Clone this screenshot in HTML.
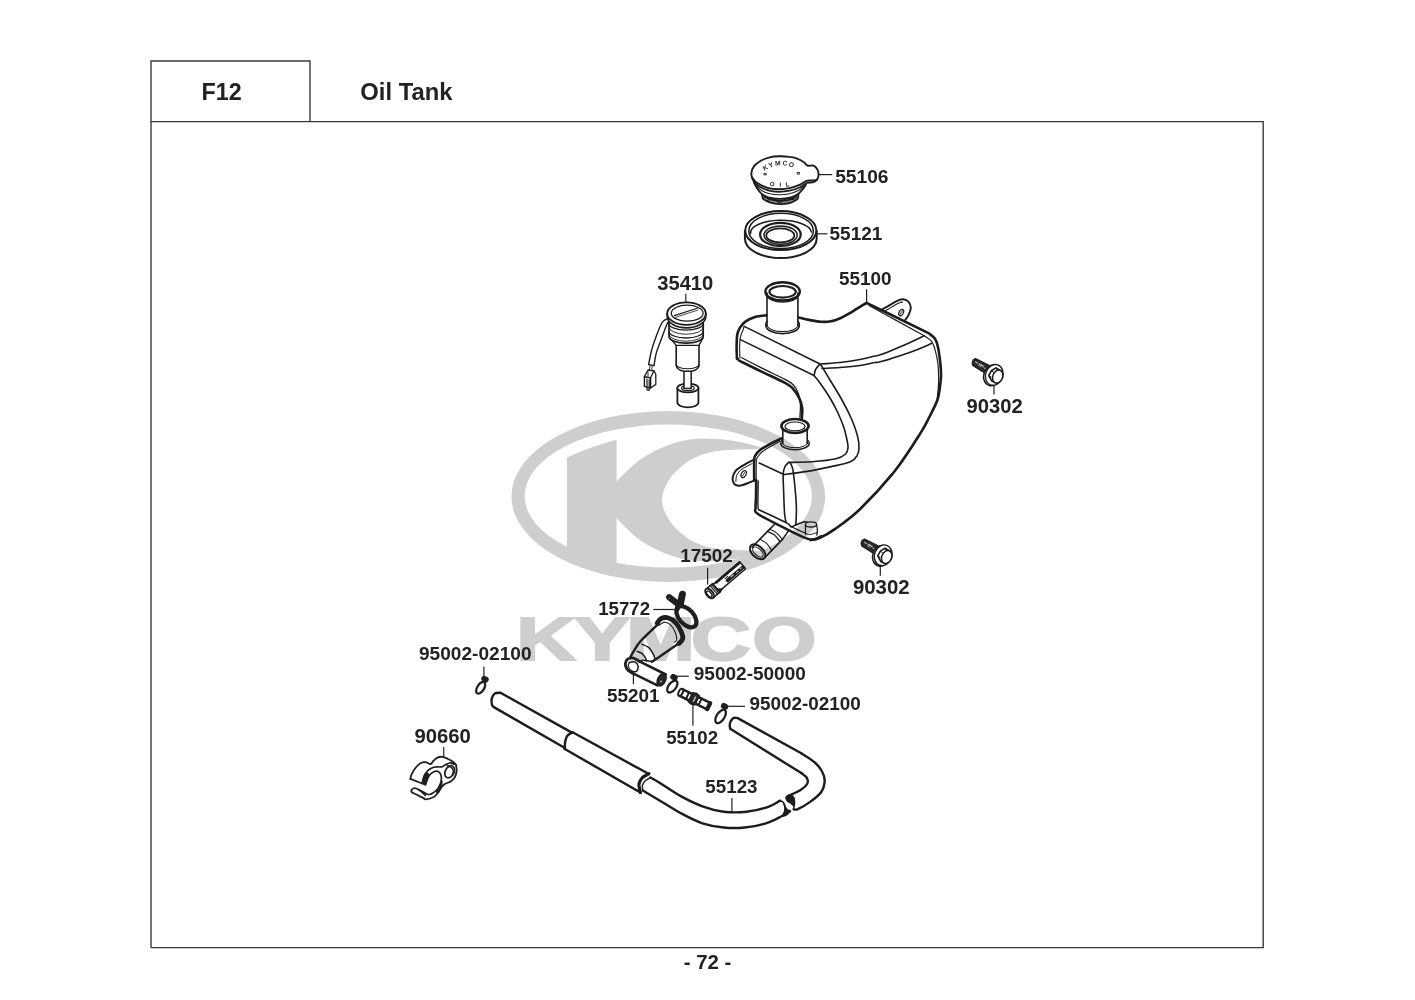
<!DOCTYPE html>
<html lang="en"><head><meta charset="utf-8"><title>F12 Oil Tank</title>
<style>
html,body{margin:0;padding:0;background:#fff;}
body{width:1415px;height:1000px;overflow:hidden;font-family:"Liberation Sans",Arial,sans-serif;}
svg{display:block;will-change:transform;}
svg text{font-family:"Liberation Sans",Arial,sans-serif;}
</style></head><body>
<svg width="1415" height="1000" viewBox="0 0 1415 1000"><path d="M511.4 496.5A156.9 85.5 0 1 0 825.2 496.5A156.9 85.5 0 1 0 511.4 496.5Z M524.6 496.1A143.7 71.5 0 1 0 812 496.1A143.7 71.5 0 1 0 524.6 496.1Z" fill="#cecece" fill-rule="evenodd"/>
<path d="M566.9 457.5Q592 446 616.6 439.8L616.6 481.5C618.2 479.9 622.6 475.1 626.4 471.6C630.2 468.1 633.8 464.1 639.2 460.3C644.6 456.5 652.2 452.1 659 449C665.8 445.9 673 443.3 680 441.6C687 439.9 693 438.8 701.3 438.6C709.6 438.4 721.3 439.2 729.6 440.2C737.9 441.2 745.5 443.3 751 444.6C756.5 445.9 760.8 447.4 762.8 448L762.8 448.4C760.8 448.5 755.8 449.1 751 449.3C746.2 449.5 739.8 449.5 734 449.8C728.2 450.1 721.5 450.4 716 451.2C710.5 452 706.1 453.1 701.3 454.9C696.5 456.7 691.9 458.6 687.2 461.9C682.5 465.2 676.8 470.1 673 474.5C669.2 478.9 666.5 484.4 664.6 488.6C662.7 492.8 662.3 498 661.8 499.9C662.3 501.8 662.7 507 664.6 511.2C666.5 515.4 669.2 520.8 673 525.3C676.8 529.8 682.5 534.6 687.2 537.9C691.9 541.2 696.5 543.1 701.3 544.9C706.1 546.7 710.5 547.7 716 548.6C721.5 549.4 728.2 549.7 734 550C739.8 550.3 746.2 550.3 751 550.5C755.8 550.7 760.8 551.2 762.8 551.4L762.8 551.8C760.8 552.4 756.5 553.9 751 555.2C745.5 556.5 737.9 558.6 729.6 559.6C721.3 560.6 709.6 561.4 701.3 561.2C693 561 687 559.9 680 558.2C673 556.5 665.8 553.9 659 550.8C652.2 547.7 644.6 543.3 639.2 539.5C633.8 535.7 630.2 531.7 626.4 528.2C622.6 524.7 618.2 519.9 616.6 518.3L616.6 572L566.9 556Z" fill="#cecece"/>
<text transform="scale(1.3436 1)" x="384.2 427.8 466.1 514.3 559.8" y="659.8" font-family="'Liberation Sans', Arial, sans-serif" font-weight="bold" font-size="61.4" fill="#cecece" stroke="#cecece" stroke-width="2.5" stroke-linejoin="miter" vector-effect="non-scaling-stroke">KYMCO</text>
<g id="hose"><path d="M571.9 732.6L500.5 692.7C499.6 692.8 496.3 692.4 494.8 693.4C493.4 694.5 492.1 697.2 491.6 699.1C491.1 701 491.7 703.4 492 704.7C492.3 706 493.2 706.5 493.4 706.9L564.5 747.8" fill="none" stroke="#1c1c1c" stroke-width="2.4" stroke-linecap="round" stroke-linejoin="round"/>
<path d="M572.6 732.3C571.7 732.9 568.6 734.2 567.3 735.8C566.1 737.5 565.5 740 565.1 742.2C564.7 744.4 564.9 747.8 564.8 749" fill="none" stroke="#1c1c1c" stroke-width="2.4" stroke-linecap="round" stroke-linejoin="round"/>
<path d="M572.6 732.3L648.9 774" fill="none" stroke="#1c1c1c" stroke-width="2.4" stroke-linecap="round" stroke-linejoin="round"/>
<path d="M564.8 749L640.4 792.4" fill="none" stroke="#1c1c1c" stroke-width="2.4" stroke-linecap="round" stroke-linejoin="round"/>
<path d="M648.9 773.7C647.8 774.3 644.2 775.8 642.5 777.5C640.9 779.2 639.4 781.4 639 783.9C638.7 786.4 640.2 791.2 640.4 792.7" fill="none" stroke="#1c1c1c" stroke-width="3.2" stroke-linecap="round" stroke-linejoin="round"/>
<path d="M650.3 777.5C649.5 778 646.7 779.3 645.4 780.6C644.1 781.9 643 783.7 642.5 785.3C642.1 786.9 642.8 789.7 642.8 790.5" fill="none" stroke="#1c1c1c" stroke-width="1.4" stroke-linecap="round" stroke-linejoin="round"/>
<path d="M650.3 777.5C651.9 778.4 654.9 779.9 660 783C665.1 786.2 674.1 792.5 681.2 796.4C688.3 800.3 695.3 803.8 702.4 806.3C709.5 808.9 716.5 810.8 723.6 811.7C730.7 812.6 737.7 812.6 744.8 812C751.9 811.3 760.1 809.6 766 807.7C771.9 805.9 777.8 801.8 780.1 800.7" fill="none" stroke="#1c1c1c" stroke-width="2.4" stroke-linecap="round" stroke-linejoin="round"/>
<path d="M642.8 790.5C645.7 792.2 653.6 796.9 660 800.7C666.4 804.5 674.1 809.6 681.2 813.4C688.3 817.2 695.3 820.9 702.4 823.3C709.5 825.6 716.5 826.8 723.6 827.5C730.7 828.2 737.7 828.2 744.8 827.5C751.9 826.8 759.9 825.2 766 823.3C772.1 821.4 777.6 818.2 781.6 816.2C785.6 814.2 788.6 812.1 790 811.3" fill="none" stroke="#1c1c1c" stroke-width="2.4" stroke-linecap="round" stroke-linejoin="round"/>
<path d="M780.1 800.7C780.7 801 782.4 801.3 783.3 802.4C784.1 803.4 784.9 805.2 785.1 807C785.3 808.9 784.9 811.9 784.4 813.4C783.9 814.9 782.6 815.5 782.3 815.9" fill="none" stroke="#1c1c1c" stroke-width="1.6" stroke-linecap="round" stroke-linejoin="round"/>
<path d="M783.3 802.4C783.6 802.4 786 807.7 787.2 809.2C788.5 810.6 790.7 809.9 790.7 810.8C790.7 811.8 788.6 814 787.2 814.8C785.9 815.7 783.1 816.9 782.7 815.9C782.3 815 784.9 811.4 784.9 809.2C785 806.9 782.9 802.4 783.3 802.4Z" fill="#1c1c1c" stroke="#1c1c1c" stroke-width="1" stroke-linecap="round" stroke-linejoin="round"/>
<path d="M785.8 797.8C785.9 796.8 786.9 795.7 787.9 795.3C789 794.9 791 794.6 792.2 795.3C793.3 796 794.2 797.4 794.6 799.3C794.9 801.1 794.9 805.6 794.3 806.3C793.6 807 791.9 804.3 790.7 803.5C789.6 802.7 788 802.3 787.2 801.4C786.4 800.4 785.7 798.9 785.8 797.8Z" fill="#1c1c1c" stroke="#1c1c1c" stroke-width="1" stroke-linecap="round" stroke-linejoin="round"/>
<path d="M801.3 753.3L737.2 717.9C736.5 718 734.2 717.4 733 718.3C731.8 719.3 730.3 721.6 729.9 723.3C729.4 725.1 730.1 727.9 730.2 728.8L801.3 773.1" fill="none" stroke="#1c1c1c" stroke-width="2.4" stroke-linecap="round" stroke-linejoin="round"/>
<path d="M801.3 753.3C803.5 754.7 810.6 758.9 814.1 761.8C817.5 764.7 820.1 767.8 821.8 771C823.6 774.2 824.8 777.3 824.7 780.9C824.5 784.4 823.6 788.7 821.1 792.2C818.7 795.7 813.7 799.3 809.8 802.1C805.9 804.9 800.5 808 797.8 809.2C795.1 810.3 794.3 809.2 793.6 809.2" fill="none" stroke="#1c1c1c" stroke-width="2.4" stroke-linecap="round" stroke-linejoin="round"/>
<path d="M801.3 773.1C802.3 773.9 806 776.3 807 778.1C808 779.8 808.2 781.8 807.3 783.7C806.3 785.6 804.7 787.2 801.3 789.4C798 791.5 789.6 795.3 787.2 796.4" fill="none" stroke="#1c1c1c" stroke-width="2.4" stroke-linecap="round" stroke-linejoin="round"/>
<path d="M793.6 809.2L794.3 800.7" fill="none" stroke="#1c1c1c" stroke-width="1.4" stroke-linecap="round" stroke-linejoin="round"/></g>
<g id="tank"><path d="M737 358.8C736.9 356.8 736.6 350.8 736.6 346.8C736.7 342.8 736.7 338 737.2 334.8C737.8 331.6 738.6 329.8 740 327.6C741.4 325.4 742.9 323.4 745.4 321.6C747.9 319.8 751.5 318.1 755 317C758.5 316 764.5 315.6 766.4 315.4" fill="none" stroke="#1c1c1c" stroke-width="2.6" stroke-linecap="round" stroke-linejoin="round"/>
<path d="M740 358.2C739.9 356.3 739.6 350.3 739.6 346.8C739.7 343.3 739.8 340 740.4 337.2C740.9 334.4 742.4 331.8 743 330C743.6 328.2 744 327 744.2 326.4" fill="none" stroke="#1c1c1c" stroke-width="1.1" stroke-linecap="round" stroke-linejoin="round"/>
<path d="M798.4 317.4C800.2 317.8 805.2 319.2 809 319.9C812.8 320.6 817.3 321.6 821 321.8C824.7 322 827.8 321.9 831 321.3C834.2 320.7 837.5 319.4 840.3 318.2C843 317 845.2 315.7 847.5 314.4C849.8 313.1 851.9 311.9 854 310.6C856.1 309.3 857.9 308.1 860 306.8C862.1 305.5 865.5 303.5 866.6 302.8" fill="none" stroke="#1c1c1c" stroke-width="2.6" stroke-linecap="round" stroke-linejoin="round"/>
<path d="M866.6 302.8L929 333.4C930 334.3 933.5 336.5 935 338.8C936.5 341.1 937.1 343 938 347.2C938.9 351.4 939.9 359.2 940.4 364C940.9 368.8 941.1 372 941 376C940.9 380 940.4 384 939.8 388C939.2 392 939.1 395.2 937.4 400C935.7 404.8 932.3 411.3 929.4 417C926.5 422.6 925.8 424.9 920 433.9C914.3 443 904.5 458.8 894.6 471.2C884.7 483.7 870.6 498.9 860.7 508.5C850.8 518.2 842 524 835.2 528.9C828.5 533.8 824.1 535.9 820 537.7C815.9 539.6 812.2 539.7 810.7 540.1" fill="none" stroke="#1c1c1c" stroke-width="2.6" stroke-linecap="round" stroke-linejoin="round"/>
<path d="M869 305.4L924.2 335.8C925.4 336.7 929.6 338.9 931.4 341.2C933.2 343.5 933.9 345.8 935 349.6C936.1 353.4 937.4 358.6 938 364C938.6 369.4 938.7 376.2 938.6 382C938.5 387.8 937.4 396 937.2 398.8" fill="none" stroke="#1c1c1c" stroke-width="1.2" stroke-linecap="round" stroke-linejoin="round"/>
<path d="M744.2 326.4L820 364" fill="none" stroke="#1c1c1c" stroke-width="1.6" stroke-linecap="round" stroke-linejoin="round"/>
<path d="M740.4 339.6L814 375.5" fill="none" stroke="#1c1c1c" stroke-width="1.6" stroke-linecap="round" stroke-linejoin="round"/>
<path d="M820 364C819.3 364.9 816.8 367.3 815.8 369.2C814.8 371.1 814.3 374.4 814 375.5" fill="none" stroke="#1c1c1c" stroke-width="1.6" stroke-linecap="round" stroke-linejoin="round"/>
<path d="M820.5 364C823.8 363.8 833.4 363.2 840 362.5C846.6 361.8 854.2 360.6 860 359.5C865.8 358.4 871.5 356.8 875 356C878.5 355.2 876 356.5 881 354.6C886 352.8 897.8 347.9 905 344.8C912.2 341.7 921 337.3 924.2 335.8" fill="none" stroke="#1c1c1c" stroke-width="1.6" stroke-linecap="round" stroke-linejoin="round"/>
<path d="M822 368.5C825 368.3 833.7 368 840 367.5C846.3 367 854.2 366.3 860 365.5C865.8 364.7 871.5 363.1 875 362.5C878.5 361.9 875 363.4 881 361.6C887 359.9 902.6 355 911 352C919.4 349 928 345 931.4 343.6" fill="none" stroke="#1c1c1c" stroke-width="1.6" stroke-linecap="round" stroke-linejoin="round"/>
<path d="M814 375.5C815 376.8 817.3 379.2 820 383C822.7 386.8 827 393 830 398C833 403 835.7 408 838 413C840.3 418 842.5 423.5 844 428C845.5 432.5 846.3 436.7 847 440C847.7 443.3 848.2 445.7 848 448C847.8 450.3 847.6 452.2 845.6 454C843.6 455.8 841.6 457.5 836 458.8C830.4 460.1 819.9 461.2 812 461.8C804.1 462.4 792.5 462.3 788.6 462.4" fill="none" stroke="#1c1c1c" stroke-width="1.6" stroke-linecap="round" stroke-linejoin="round"/>
<path d="M821 365C822.5 367.5 826.5 374.2 830 380C833.5 385.8 838.3 393.3 842 400C845.7 406.7 849.4 414 852 420C854.6 426 856.3 431.3 857.5 436C858.7 440.7 859.1 444.7 859 448C859 451.3 858.4 453.5 857 455.8C855.6 458.1 854.7 460 850.4 461.8C846.1 463.6 838.4 465 831.2 466.6C824 468.2 815.1 470.1 807.2 471.4C799.3 472.7 787.7 474.1 783.8 474.6" fill="none" stroke="#1c1c1c" stroke-width="1.6" stroke-linecap="round" stroke-linejoin="round"/>
<path d="M737 357.8C737.2 358.2 737.7 359.4 738.4 360C739.1 360.6 737.4 359.7 741.2 361.6C745 363.5 753.7 367.9 761 371.4C768.3 374.9 779.8 380.1 785 382.8C790.2 385.5 789.9 385.4 792.2 387.8C794.5 390.2 797.1 393.8 798.8 397.2C800.5 400.6 801.7 404.5 802.2 408C802.7 411.5 801.9 416.5 801.8 418.2" fill="none" stroke="#1c1c1c" stroke-width="2.6" stroke-linecap="round" stroke-linejoin="round"/>
<path d="M741.8 357.8C745 359.5 753.8 364.1 761 367.7C768.2 371.3 779.6 376.6 785 379.4C790.4 382.3 790.9 382.4 793.2 384.7C795.4 387.1 797.2 390.3 798.4 393.6C799.6 396.9 800.1 400.4 800.4 404.4C800.6 408.4 800 415.2 799.9 417.4" fill="none" stroke="#1c1c1c" stroke-width="1.3" stroke-linecap="round" stroke-linejoin="round"/>
<ellipse cx="782.6" cy="291.4" rx="17.2" ry="9.1" fill="#fff" stroke="#1c1c1c" stroke-width="2.4"/>
<ellipse cx="782.6" cy="291.8" rx="13.2" ry="5.8" fill="none" stroke="#1c1c1c" stroke-width="2.1"/>
<path d="M767 293V325.5" fill="none" stroke="#1c1c1c" stroke-width="1.6" stroke-linecap="round" stroke-linejoin="round"/>
<path d="M797.9 293V325.5" fill="none" stroke="#1c1c1c" stroke-width="1.6" stroke-linecap="round" stroke-linejoin="round"/>
<path d="M766 295A17 9 0 0 0 799.2 295" fill="none" stroke="#1c1c1c" stroke-width="1.2" stroke-linecap="round" stroke-linejoin="round"/>
<path d="M765.8 325.5A16.8 8.2 0 0 0 799.4 325.5" fill="none" stroke="#1c1c1c" stroke-width="1.6" stroke-linecap="round" stroke-linejoin="round"/>
<path d="M767.2 325A15.4 6.6 0 0 0 798 325" fill="none" stroke="#1c1c1c" stroke-width="1.1" stroke-linecap="round" stroke-linejoin="round"/>
<path d="M765.8 325.5Q765.6 322.5 767 321" fill="none" stroke="#1c1c1c" stroke-width="1.3" stroke-linecap="round" stroke-linejoin="round"/>
<path d="M799.4 325.5Q799.6 322.5 797.9 321" fill="none" stroke="#1c1c1c" stroke-width="1.3" stroke-linecap="round" stroke-linejoin="round"/>
<path d="M882.2 309.4C883.6 308.6 888 306.1 890.6 304.6C893.2 303.1 895.7 301.5 897.8 300.6C899.9 299.7 901.4 299 903.2 299.2C905 299.4 907.3 300.4 908.6 301.8C909.9 303.3 910.8 305.6 910.8 307.8C910.8 310 909.6 313 908.6 315C907.6 317.1 905.6 319.3 905 320.2" fill="none" stroke="#1c1c1c" stroke-width="1.9" stroke-linecap="round" stroke-linejoin="round"/>
<path d="M885.2 311C886.5 310.2 890.6 307.5 893 306.2C895.4 304.8 898 303.5 899.6 302.8C901.2 302.1 902.1 302.2 902.6 302.1" fill="none" stroke="#1c1c1c" stroke-width="1.1" stroke-linecap="round" stroke-linejoin="round"/>
<ellipse cx="901.2" cy="312.6" rx="2.1" ry="3.5" fill="none" stroke="#1c1c1c" stroke-width="1.2" transform="rotate(28 901.2 312.6)"/>
<path d="M900 314.5L902.6 310.6" fill="none" stroke="#1c1c1c" stroke-width="0.9" stroke-linecap="round" stroke-linejoin="round"/>
<path d="M781.4 438.4C779.7 439.2 774.7 441.5 771.2 443.4C767.7 445.3 763 447.8 760.4 449.8C757.8 451.8 756.4 453.7 755.4 455.4C754.3 457.1 754.4 455.8 754.2 460C754 464.2 754.2 477 754.2 480.4" fill="none" stroke="#1c1c1c" stroke-width="2.6" stroke-linecap="round" stroke-linejoin="round"/>
<path d="M779.6 441.5C778 442.4 772.9 445.1 770 446.8C767.1 448.5 764.2 450.3 762.2 451.8C760.2 453.4 759.2 454.7 758.2 456.2C757.3 457.6 756.8 456.6 756.4 460.6C756.1 464.6 756.2 477.1 756.2 480.4" fill="none" stroke="#1c1c1c" stroke-width="1.1" stroke-linecap="round" stroke-linejoin="round"/>
<path d="M756.2 480.4C756.2 483.2 756.1 492.6 756 497.2C755.9 501.8 755.3 505.2 755.6 508C755.9 510.8 752.6 510.4 758 514C763.4 517.6 779.8 525.7 788 529.8C796.2 533.9 802.8 537 807.2 538.6C811.6 540.2 812 539.8 814.4 539.4C816.8 539 820.4 536.7 821.6 536.2" fill="none" stroke="#1c1c1c" stroke-width="2.6" stroke-linecap="round" stroke-linejoin="round"/>
<path d="M758.2 481C758.2 485.3 757.7 501.9 758 506.8C758.3 511.7 759.5 509.6 759.8 510.2" fill="none" stroke="#1c1c1c" stroke-width="1.4" stroke-linecap="round" stroke-linejoin="round"/>
<path d="M759.2 463L783.4 474.2" fill="none" stroke="#1c1c1c" stroke-width="1.6" stroke-linecap="round" stroke-linejoin="round"/>
<path d="M788.6 462.4C788 463.1 785.9 464.7 785 466.6C784.1 468.5 783.4 469.9 783.2 473.8C783 477.7 783.3 483.3 783.6 490C783.8 496.7 784.2 508.6 784.6 514C785.1 519.4 785.9 521.2 786.2 522.6" fill="none" stroke="#1c1c1c" stroke-width="1.6" stroke-linecap="round" stroke-linejoin="round"/>
<path d="M790.4 463C790.8 464.2 792.2 465.7 793 470.2C793.8 474.7 794.6 483.7 795.2 490C795.8 496.3 796.3 502.2 796.4 508C796.5 513.8 795.9 522.2 795.8 525" fill="none" stroke="#1c1c1c" stroke-width="1.6" stroke-linecap="round" stroke-linejoin="round"/>
<path d="M759.8 510.2C764.2 512.2 781 519.9 786.2 522.6C791.4 525.4 789.4 526.2 791 526.6C792.6 527 793.7 525.8 795.8 525C797.9 524.3 801.7 522.4 803.6 521.9C805.5 521.5 806.6 522.3 807.2 522.4" fill="none" stroke="#1c1c1c" stroke-width="1.6" stroke-linecap="round" stroke-linejoin="round"/>
<ellipse cx="811" cy="524.4" rx="5.6" ry="2.6" fill="none" stroke="#1c1c1c" stroke-width="1.3"/>
<path d="M805.4 524.8L805.5 534.4" fill="none" stroke="#1c1c1c" stroke-width="1.3" stroke-linecap="round" stroke-linejoin="round"/>
<path d="M816.7 524.8C816.8 525.8 817.4 529.1 817.4 530.8C817.4 532.5 816.9 534.3 816.8 535" fill="none" stroke="#1c1c1c" stroke-width="1.3" stroke-linecap="round" stroke-linejoin="round"/>
<path d="M805.4 533.2C806.1 533.4 807.7 534.7 809.6 534.6C811.5 534.5 815.6 532.9 816.8 532.6" fill="none" stroke="#1c1c1c" stroke-width="1" stroke-linecap="round" stroke-linejoin="round"/>
<path d="M791 526.6C792.1 527.1 795.2 528.5 797.6 529.6C800 530.7 804.2 532.8 805.5 533.4" fill="none" stroke="#1c1c1c" stroke-width="1.2" stroke-linecap="round" stroke-linejoin="round"/>
<ellipse cx="795" cy="426" rx="13.6" ry="7" fill="none" stroke="#1c1c1c" stroke-width="2.6"/>
<ellipse cx="795" cy="426.4" rx="10" ry="4.4" fill="none" stroke="#1c1c1c" stroke-width="1.2"/>
<path d="M782.8 429V443.5" fill="none" stroke="#1c1c1c" stroke-width="1.6" stroke-linecap="round" stroke-linejoin="round"/>
<path d="M807.2 429V443.5" fill="none" stroke="#1c1c1c" stroke-width="1.6" stroke-linecap="round" stroke-linejoin="round"/>
<path d="M780.8 443.5A14.2 6.2 0 0 0 809.2 443.5" fill="none" stroke="#1c1c1c" stroke-width="1.6" stroke-linecap="round" stroke-linejoin="round"/>
<path d="M782.2 442.7A12.8 5 0 0 0 807.8 442.7" fill="none" stroke="#1c1c1c" stroke-width="1" stroke-linecap="round" stroke-linejoin="round"/>
<path d="M780.8 443.5Q780.6 441.1 782.4 440.1" fill="none" stroke="#1c1c1c" stroke-width="1.2" stroke-linecap="round" stroke-linejoin="round"/>
<path d="M809.2 443.5Q809.4 441.1 807.6 440.1" fill="none" stroke="#1c1c1c" stroke-width="1.2" stroke-linecap="round" stroke-linejoin="round"/>
<path d="M754.7 459.4C753.1 460.2 748.5 462.3 745.4 464.1C742.2 465.9 738.1 468.1 736 470.4C733.9 472.7 732.9 475.8 732.6 478C732.3 480.3 733.2 482.7 734.3 484C735.5 485.2 737 485.8 739.4 485.7C741.8 485.5 746.1 483.8 748.7 482.8C751.4 481.8 754.4 480.2 755.5 479.7" fill="none" stroke="#1c1c1c" stroke-width="2" stroke-linecap="round" stroke-linejoin="round"/>
<path d="M752.1 463.6C750.4 464.5 744.5 467.3 742 469.2C739.4 471.1 737.9 472.9 736.9 475C735.9 477 736 480.3 735.9 481.4" fill="none" stroke="#1c1c1c" stroke-width="1" stroke-linecap="round" stroke-linejoin="round"/>
<ellipse cx="743.7" cy="474.1" rx="2.3" ry="3.7" fill="none" stroke="#1c1c1c" stroke-width="1.2" transform="rotate(28 743.7 474.1)"/>
<path d="M742.3 476.1L745.1 472.1" fill="none" stroke="#1c1c1c" stroke-width="0.9" stroke-linecap="round" stroke-linejoin="round"/>
<path d="M774.2 524.7L768.2 530.6L752.1 547.2" fill="none" stroke="#1c1c1c" stroke-width="1.6" stroke-linecap="round" stroke-linejoin="round"/>
<path d="M788.1 531.4L782.7 539.1L765 557.4" fill="none" stroke="#1c1c1c" stroke-width="1.6" stroke-linecap="round" stroke-linejoin="round"/>
<ellipse cx="757.6" cy="551.8" rx="9.2" ry="5.6" fill="none" stroke="#1c1c1c" stroke-width="2" transform="rotate(42 757.6 551.8)"/>
<ellipse cx="757.9" cy="552" rx="6.4" ry="3.4" fill="none" stroke="#1c1c1c" stroke-width="1.1" transform="rotate(42 757.9 552)"/>
<path d="M767.4 531.4C768.5 532 772.1 533.1 774.2 534.8C776.3 536.5 779.1 540.5 780.1 541.6" fill="none" stroke="#1c1c1c" stroke-width="1.3" stroke-linecap="round" stroke-linejoin="round"/>
<path d="M769.4 529.2C770.6 529.8 774.1 530.9 776.2 532.6C778.4 534.3 781.3 538.3 782.3 539.4" fill="none" stroke="#1c1c1c" stroke-width="1.1" stroke-linecap="round" stroke-linejoin="round"/>
<path d="M759.8 539.1C760.9 539.8 764.6 541.5 766.6 543.3C768.5 545.2 770.8 549 771.6 550.1" fill="none" stroke="#1c1c1c" stroke-width="1.1" stroke-linecap="round" stroke-linejoin="round"/></g>
<g id="cap"><path d="M761.9 193.8C762 194.4 762.2 196.4 762.5 197.3C762.8 198.2 762.5 198.6 763.7 199.4C764.9 200.3 767 201.6 769.7 202.4C772.3 203.2 776.3 204 779.6 204.1C782.9 204.2 786.6 203.8 789.5 203.1C792.3 202.4 795.1 200.7 796.5 199.8C798 198.8 797.8 198.3 798.1 197.3C798.4 196.3 798.4 194.4 798.5 193.8" fill="#8a8a8a" stroke="#1c1c1c" stroke-width="1.8" stroke-linecap="round" stroke-linejoin="round"/>
<path d="M764.4 196.9C765.5 197.4 768.6 199.1 771.1 199.8C773.6 200.4 776.6 200.8 779.6 200.8C782.5 200.9 786 200.6 788.8 200C791.5 199.3 794.9 197.4 796.2 196.9" fill="none" stroke="#1c1c1c" stroke-width="1.6" stroke-linecap="round" stroke-linejoin="round"/>
<path d="M766.9 200.8C767.9 200.5 771.1 198.5 773.2 198.7C775.3 199 777.3 202.4 779.6 202.4C781.8 202.4 784.3 199.2 786.6 198.7C789 198.2 792.5 199.3 793.7 199.4" fill="none" stroke="#1c1c1c" stroke-width="1.2" stroke-linecap="round" stroke-linejoin="round"/>
<path d="M753.8 182.5C754.3 183.4 755.7 186.3 757 188.1C758.2 189.9 759.3 191.9 761.2 193.4C763.1 195 765.2 196.5 768.3 197.4C771.3 198.3 775.8 198.9 779.6 198.9C783.3 198.9 787.7 198.3 790.9 197.4C794.1 196.5 796.5 195 798.7 193.4C800.8 191.9 802.4 189.6 803.6 188.1C804.8 186.6 805.7 184.9 806.1 184.2" fill="#fff" stroke="#1c1c1c" stroke-width="1.8" stroke-linecap="round" stroke-linejoin="round"/>
<path d="M751.7 176.1C751.9 176.8 752.1 178.8 753.1 180.3C754.1 181.9 755.1 183.8 757.7 185.4C760.2 187.1 764.7 189.3 768.3 190.4C771.8 191.4 775.3 191.7 778.9 191.8C782.4 191.8 785.9 191.5 789.5 190.7C793 190 797.2 188.5 800.1 187.2C802.9 185.9 804.2 183.8 806.4 183C808.7 182.1 811.7 182.8 813.5 182.2C815.3 181.7 816.7 180.1 817.4 179.6" fill="#fff" stroke="#1c1c1c" stroke-width="1.8" stroke-linecap="round" stroke-linejoin="round"/>
<path d="M751.3 173.3C751.5 171.3 752.5 168.3 754.1 166.2C755.8 164.1 758.6 162 761.2 160.5C763.8 159.1 766.7 158.1 769.7 157.4C772.6 156.7 775.6 156.4 778.9 156.3C782.2 156.2 786.5 156.5 789.5 156.9C792.4 157.2 794.2 157.6 796.5 158.4C798.9 159.3 801.8 160.8 803.6 162C805.4 163.1 805.8 164.9 807.5 165.5C809.1 166.1 811.8 165.1 813.5 165.7C815.1 166.4 816.5 167.9 817.4 169.4C818.2 170.9 818.6 173.1 818.6 174.7C818.6 176.3 818 178.1 817.2 179.1C816.3 180 815.3 180.2 813.5 180.5C811.7 180.8 808.7 180.1 806.4 180.8C804.2 181.5 802.9 183.4 800.1 184.6C797.2 185.8 793 187.3 789.5 188.1C785.9 188.9 782.4 189.2 778.9 189.2C775.3 189.2 771.8 189.1 768.3 188.1C764.7 187.1 760.3 185 757.7 183.3C755.1 181.7 753.8 179.9 752.7 178.2C751.7 176.5 751.1 175.3 751.3 173.3Z" fill="#fff" stroke="#1c1c1c" stroke-width="1.9" stroke-linecap="round" stroke-linejoin="round"/>
<path d="M755.2 184.6C756.2 185.5 758.8 188.7 761.2 190.2C763.6 191.8 766.6 193 769.7 193.8C772.7 194.5 776.3 194.8 779.6 194.8C782.9 194.8 786.3 194.5 789.5 193.8C792.7 193 796.2 191.5 798.7 190.2C801.1 188.9 803.1 186.7 804 186" fill="none" stroke="#1c1c1c" stroke-width="1.1" stroke-linecap="round" stroke-linejoin="round"/>
<path id="capArc" d="M763.7 171.3Q779.9 159.5 798.7 170.6" fill="none"/>
<text font-family="'Liberation Sans', Arial, sans-serif" font-size="6.6" font-weight="bold" fill="#1c1c1c" letter-spacing="1.5"><textPath href="#capArc" startOffset="0.6">KYMCO</textPath></text>
<path id="capArc2" d="M769.7 185.4Q781 188.3 795.1 185.1" fill="none"/>
<text font-family="'Liberation Sans', Arial, sans-serif" font-size="6.2" font-weight="bold" fill="#1c1c1c" letter-spacing="5.0"><textPath href="#capArc2" startOffset="0">OIL</textPath></text>
<rect x="764" y="173.3" width="2.2" height="1.6" fill="none" stroke="#1c1c1c" stroke-width="0.8"/>
<rect x="797.2" y="172.5" width="2.2" height="1.6" fill="none" stroke="#1c1c1c" stroke-width="0.8"/></g>
<g id="seal"><path d="M744.9 231 V238.5 A35.9 19.6 0 0 0 816.7 238.5 V231" fill="#fff" stroke="#1c1c1c" stroke-width="2" stroke-linecap="round" stroke-linejoin="round"/>
<ellipse cx="780.8" cy="230.6" rx="35.6" ry="19.5" fill="#fff" stroke="#1c1c1c" stroke-width="2"/>
<ellipse cx="781.1" cy="230.9" rx="32.3" ry="17.6" fill="none" stroke="#1c1c1c" stroke-width="1.5"/>
<path d="M750.6 233.5 A30.4 12.4 0 0 1 811.4 232" fill="none" stroke="#1c1c1c" stroke-width="1.5" stroke-linecap="round" stroke-linejoin="round"/>
<ellipse cx="780.4" cy="234.4" rx="20.3" ry="11.6" fill="none" stroke="#1c1c1c" stroke-width="2.2"/>
<ellipse cx="780.6" cy="235.1" rx="16.6" ry="9.2" fill="none" stroke="#1c1c1c" stroke-width="1.5"/>
<ellipse cx="780.3" cy="235.4" rx="14" ry="7" fill="none" stroke="#1c1c1c" stroke-width="1.8"/></g>
<g id="sensor"><path d="M677.4 388 V402.6 A10.5 4.8 0 0 0 698.4 402.6 V388" fill="#fff" stroke="#1c1c1c" stroke-width="1.8" stroke-linecap="round" stroke-linejoin="round"/>
<ellipse cx="687.9" cy="388" rx="10.5" ry="4.4" fill="#fff" stroke="#1c1c1c" stroke-width="1.8"/>
<ellipse cx="687.9" cy="388.3" rx="6.4" ry="2.4" fill="none" stroke="#1c1c1c" stroke-width="1.2"/>
<path d="M684 370 V388.6 H691.2 V370" fill="#fff" stroke="#1c1c1c" stroke-width="1.5" stroke-linecap="round" stroke-linejoin="round"/>
<path d="M676.2 344 V365.5 Q676.6 368.6 681 370.4 Q687.6 372.2 694.4 370.4 Q698.6 368.6 699 365.5 V344Z" fill="#fff" stroke="#1c1c1c" stroke-width="1.6" stroke-linecap="round" stroke-linejoin="round"/>
<path d="M676.2 364.5 A11.4 4.2 0 0 0 699 364.5" fill="none" stroke="#1c1c1c" stroke-width="1.1" stroke-linecap="round" stroke-linejoin="round"/>
<path d="M670 338 L676.2 345.4 H699 L703 338Z" fill="#fff" stroke="#1c1c1c" stroke-width="1.4" stroke-linecap="round" stroke-linejoin="round"/>
<path d="M669 315 V336.6 A17.1 6.6 0 0 0 703.2 336.6 V315Z" fill="#fff" stroke="#1c1c1c" stroke-width="1.7" stroke-linecap="round" stroke-linejoin="round"/>
<path d="M669 323.4 A17.1 6.8 0 0 0 703.2 323.4" fill="none" stroke="#1c1c1c" stroke-width="1.3" stroke-linecap="round" stroke-linejoin="round"/>
<path d="M669 327.4 A17.1 6.8 0 0 0 703.2 327.4" fill="none" stroke="#1c1c1c" stroke-width="0.9" stroke-linecap="round" stroke-linejoin="round"/>
<path d="M669 331.2 A17.1 6.8 0 0 0 703.2 331.2" fill="none" stroke="#1c1c1c" stroke-width="1.3" stroke-linecap="round" stroke-linejoin="round"/>
<path d="M669 334.4 A17.1 6.8 0 0 0 703.2 334.4" fill="none" stroke="#1c1c1c" stroke-width="0.9" stroke-linecap="round" stroke-linejoin="round"/>
<path d="M667.2 313.6 V316.6 A19.3 11.3 0 0 0 705.8 316.6 V313.6" fill="#fff" stroke="#1c1c1c" stroke-width="1.7" stroke-linecap="round" stroke-linejoin="round"/>
<ellipse cx="686.5" cy="313.6" rx="19.3" ry="11.3" fill="#fff" stroke="#1c1c1c" stroke-width="1.8"/>
<ellipse cx="687.2" cy="313.2" rx="15.9" ry="8" fill="none" stroke="#1c1c1c" stroke-width="1.3"/>
<path d="M674.4 315.6 L697.2 308.2" fill="none" stroke="#1c1c1c" stroke-width="1.2" stroke-linecap="round" stroke-linejoin="round"/>
<path d="M675.4 317.4 L698 310" fill="none" stroke="#1c1c1c" stroke-width="0.8" stroke-linecap="round" stroke-linejoin="round"/>
<path d="M668.6 318.8C667.9 319 665.4 319.6 664.2 320.4C663 321.3 662.7 321.2 661.4 323.8C660.1 326.4 658 331.4 656.4 335.8C654.8 340.2 652.9 345.4 651.6 350.2C650.3 355 649.1 362.2 648.6 364.6" fill="none" stroke="#1c1c1c" stroke-width="1.4" stroke-linecap="round" stroke-linejoin="round"/>
<path d="M668.2 322C667.9 322.5 667.8 322.1 666.6 325C665.4 327.9 662.9 334.8 661.2 339.4C659.5 344 657.6 348.2 656.4 352.6C655.2 357 654.4 363.4 654 365.6" fill="none" stroke="#1c1c1c" stroke-width="1.4" stroke-linecap="round" stroke-linejoin="round"/>
<path d="M648.6 364.6L654 365.6" fill="none" stroke="#1c1c1c" stroke-width="1.1" stroke-linecap="round" stroke-linejoin="round"/>
<path d="M650.2 365.2L649.2 370.4" fill="none" stroke="#1c1c1c" stroke-width="0.9" stroke-linecap="round" stroke-linejoin="round"/>
<path d="M652.2 365.6L651.8 370.6" fill="none" stroke="#1c1c1c" stroke-width="0.9" stroke-linecap="round" stroke-linejoin="round"/>
<path d="M644.4 376.6L644.4 386.4L650.6 388L650.6 377.8Z" fill="#fff" stroke="#1c1c1c" stroke-width="1.4" stroke-linecap="round" stroke-linejoin="round"/>
<path d="M644.4 376.6L648 370L654 370.8L650.6 377.8Z" fill="#fff" stroke="#1c1c1c" stroke-width="1.3" stroke-linecap="round" stroke-linejoin="round"/>
<path d="M654 370.8L655.8 374.2L655.8 384.4L650.6 388" fill="none" stroke="#1c1c1c" stroke-width="1.3" stroke-linecap="round" stroke-linejoin="round"/>
<path d="M647 379L647 389.8L649.2 390.3L649.2 379.6" fill="none" stroke="#1c1c1c" stroke-width="1.2" stroke-linecap="round" stroke-linejoin="round"/>
<path d="M648 371.8L648 376.6" fill="none" stroke="#1c1c1c" stroke-width="0.9" stroke-linecap="round" stroke-linejoin="round"/></g>
<g id="bolts"><path d="M975.5 358.6L991.1 366.4L985.5 373.6L972.8 365.5L972.1 363.1L973.1 360.1Z" fill="#2a2a2a" stroke="#1c1c1c" stroke-width="1.2" stroke-linecap="round" stroke-linejoin="round"/>
<path d="M975.1 361.8L978 363.5" fill="none" stroke="#bbb" stroke-width="1.1" />
<path d="M978.9 363.7L983.4 366.4" fill="none" stroke="#ccc" stroke-width="1.3" />
<path d="M978 365.1L981.2 367.1" fill="none" stroke="#999" stroke-width="0.9" />
<path d="M983.4 367.3L985.9 369.1" fill="none" stroke="#bbb" stroke-width="1" />
<ellipse cx="992.4" cy="375.4" rx="8.6" ry="10.6" fill="#fff" stroke="#1c1c1c" stroke-width="1.5" transform="rotate(20 992.4 375.4)"/>
<ellipse cx="994.2" cy="374.9" rx="8.6" ry="10.6" fill="#fff" stroke="#1c1c1c" stroke-width="1.4" transform="rotate(20 994.2 374.9)"/>
<path d="M996 367.9L1001.7 371.1L1002.6 377.8L997.4 383.6L991.8 381.1L988.8 375.5L991.5 370.5Z" fill="#fff" stroke="#1c1c1c" stroke-width="1.6" stroke-linecap="round" stroke-linejoin="round"/>
<ellipse cx="997.7" cy="376.6" rx="4.9" ry="6.7" fill="#fff" stroke="#1c1c1c" stroke-width="1.5" transform="rotate(22 997.7 376.6)"/>
<path d="M991.5 370.5L993.6 372.5" fill="none" stroke="#1c1c1c" stroke-width="1" stroke-linecap="round" stroke-linejoin="round"/>
<path d="M988.8 375.5L991.1 377" fill="none" stroke="#1c1c1c" stroke-width="1" stroke-linecap="round" stroke-linejoin="round"/>
<path d="M996 367.9L997 369.8" fill="none" stroke="#1c1c1c" stroke-width="1" stroke-linecap="round" stroke-linejoin="round"/><g transform="translate(-111 180.4)"><path d="M975.5 358.6L991.1 366.4L985.5 373.6L972.8 365.5L972.1 363.1L973.1 360.1Z" fill="#2a2a2a" stroke="#1c1c1c" stroke-width="1.2" stroke-linecap="round" stroke-linejoin="round"/>
<path d="M975.1 361.8L978 363.5" fill="none" stroke="#bbb" stroke-width="1.1" />
<path d="M978.9 363.7L983.4 366.4" fill="none" stroke="#ccc" stroke-width="1.3" />
<path d="M978 365.1L981.2 367.1" fill="none" stroke="#999" stroke-width="0.9" />
<path d="M983.4 367.3L985.9 369.1" fill="none" stroke="#bbb" stroke-width="1" />
<ellipse cx="992.4" cy="375.4" rx="8.6" ry="10.6" fill="#fff" stroke="#1c1c1c" stroke-width="1.5" transform="rotate(20 992.4 375.4)"/>
<ellipse cx="994.2" cy="374.9" rx="8.6" ry="10.6" fill="#fff" stroke="#1c1c1c" stroke-width="1.4" transform="rotate(20 994.2 374.9)"/>
<path d="M996 367.9L1001.7 371.1L1002.6 377.8L997.4 383.6L991.8 381.1L988.8 375.5L991.5 370.5Z" fill="#fff" stroke="#1c1c1c" stroke-width="1.6" stroke-linecap="round" stroke-linejoin="round"/>
<ellipse cx="997.7" cy="376.6" rx="4.9" ry="6.7" fill="#fff" stroke="#1c1c1c" stroke-width="1.5" transform="rotate(22 997.7 376.6)"/>
<path d="M991.5 370.5L993.6 372.5" fill="none" stroke="#1c1c1c" stroke-width="1" stroke-linecap="round" stroke-linejoin="round"/>
<path d="M988.8 375.5L991.1 377" fill="none" stroke="#1c1c1c" stroke-width="1" stroke-linecap="round" stroke-linejoin="round"/>
<path d="M996 367.9L997 369.8" fill="none" stroke="#1c1c1c" stroke-width="1" stroke-linecap="round" stroke-linejoin="round"/></g></g>
<g id="tube17502"><g transform="translate(709 594) rotate(-40.5)" stroke="#1c1c1c" fill="none" stroke-linecap="round" stroke-linejoin="round">
<path d="M9 -4.6 H44.2 V4.6 H9 Z" fill="#fff" stroke-width="1.5"/>
<path d="M13 -4 H43.5" stroke-width="2.6"/>
<path d="M23 1.6 H43" stroke-width="3.6"/>
<path d="M28 1.2 H31 M35 1.6 H37 M40 1 H41.5" stroke="#ddd" stroke-width="1"/>
<path d="M22 -1.2 L26 -1.2" stroke-width="1"/>
<path d="M1 -5.6 H9.5 V5.6 H1 Z" fill="#fff" stroke-width="1.6"/>
<path d="M6.2 -5.6 V5.6 M8 -5.4 V5.4" stroke-width="1.2"/>
<path d="M9.5 2 L12.5 4.6 M9.5 5.6 L12 4.8" stroke-width="2"/>
<ellipse cx="0.8" cy="0" rx="3.2" ry="5.7" fill="#fff" stroke-width="1.9"/>
<ellipse cx="0.2" cy="0.2" rx="1.9" ry="3.6" fill="#fff" stroke-width="1.4"/>
</g></g>
<g id="clamp15772"><ellipse cx="686.4" cy="616.8" rx="12.6" ry="7.3" transform="rotate(48 686.4 616.8)" fill="none" stroke="#1f1f1f" stroke-width="4.3"/>
<path d="M669.2 597.2L677 603.2" stroke="#1f1f1f" stroke-width="6.2" stroke-linecap="round" fill="none"/>
<path d="M682.4 594.2L680.2 604.5" stroke="#1f1f1f" stroke-width="7" stroke-linecap="round" fill="none"/>
<path d="M678.5 603.5L677.2 609" stroke="#1f1f1f" stroke-width="5" stroke-linecap="round" fill="none"/>
<circle cx="669.5" cy="598.1" r="0.7" fill="#999"/></g>
<g id="filter55201"><path d="M658.6 623.6C655.7 626.4 645.2 636.1 641.4 640.2C637.6 644.3 637.4 645.5 635.6 648.2C633.8 651 631.4 655.2 630.6 656.6" fill="none" stroke="#1f1f1f" stroke-width="2.4" stroke-linecap="round" stroke-linejoin="round"/>
<path d="M678.6 643.4C674.7 646.1 659.9 656.4 655.4 659.4C650.9 662.5 652.4 661.4 651.8 661.8" fill="none" stroke="#1f1f1f" stroke-width="2.4" stroke-linecap="round" stroke-linejoin="round"/>
<path d="M657.2 623.2C657.9 622.4 659.2 619.5 661 618.6C662.8 617.7 665.3 617.1 667.8 617.8C670.3 618.5 673.6 620.5 675.8 622.8C678 625.1 680.1 628.9 681.2 631.6C682.4 634.3 683.1 636.8 682.7 638.8C682.3 640.8 679.6 642.7 679 643.4" fill="none" stroke="#1f1f1f" stroke-width="4.8" stroke-linecap="round" stroke-linejoin="round"/>
<path d="M660.2 624.4C661 624 663.2 622 665 622.2C666.8 622.3 669.2 623.5 671 625.4C672.8 627.2 674.7 630.8 675.6 633.2C676.6 635.6 676.8 638.5 676.6 640C676.4 641.5 674.9 641.8 674.6 642.2" fill="none" stroke="#1f1f1f" stroke-width="1.2" stroke-linecap="round" stroke-linejoin="round"/>
<path d="M657.2 623.2C657.5 623.5 658.1 625 658.6 625.2C659.1 625.4 659.9 624.5 660.2 624.4" fill="none" stroke="#1f1f1f" stroke-width="1.2" stroke-linecap="round" stroke-linejoin="round"/>
<path d="M641.8 644.2C642.9 644.8 646.7 645.7 648.6 647.4C650.5 649.1 652.3 652.5 653.4 654.4C654.5 656.3 654.7 658.2 655 659" fill="none" stroke="#1f1f1f" stroke-width="1.5" stroke-linecap="round" stroke-linejoin="round"/>
<path d="M637.2 651.4C638.1 651.8 640.8 652.5 642.2 653.6C643.6 654.7 644.7 656.7 645.4 657.8C646.1 659 646.2 660.1 646.4 660.6" fill="none" stroke="#1f1f1f" stroke-width="1.5" stroke-linecap="round" stroke-linejoin="round"/>
<path d="M646.4 660.6C646.9 660.7 648.4 661.1 649.4 661.2C650.4 661.3 652.1 661.2 652.6 661.2" fill="none" stroke="#1f1f1f" stroke-width="1.6" stroke-linecap="round" stroke-linejoin="round"/>
<path d="M646.4 660.6C645.8 660.5 644.1 660.1 643 660.2C641.9 660.3 640.3 661 639.8 661.2" fill="none" stroke="#1f1f1f" stroke-width="1.6" stroke-linecap="round" stroke-linejoin="round"/>
<path d="M639 661.2L665.8 674.5" fill="none" stroke="#1f1f1f" stroke-width="2.6" stroke-linecap="round" stroke-linejoin="round"/>
<path d="M632.2 673L657.4 685.4" fill="none" stroke="#1f1f1f" stroke-width="2.6" stroke-linecap="round" stroke-linejoin="round"/>
<path d="M639 661.2C638.1 660.7 635.3 658.4 633.4 658C631.5 657.6 629.1 658 627.8 659C626.5 659.9 625.5 661.9 625.4 663.6C625.3 665.3 625.9 667.6 627 669.2C628.1 670.8 631.3 672.4 632.2 673" fill="none" stroke="#1f1f1f" stroke-width="2.8" stroke-linecap="round" stroke-linejoin="round"/>
<path d="M629.4 662.4C630.3 662.3 633.6 661.4 635 662C636.4 662.6 637.8 664.5 638 666C638.3 667.5 637.4 670.3 636.6 671.2C635.8 672.1 633.6 671.5 633 671.6" fill="none" stroke="#1f1f1f" stroke-width="1.5" stroke-linecap="round" stroke-linejoin="round"/>
<path d="M629.4 662.4C629.2 663 628.1 664.8 628.2 666C628.3 667.2 629.4 668.7 630.2 669.6C631 670.5 632.5 671.3 633 671.6" fill="none" stroke="#1f1f1f" stroke-width="1.3" stroke-linecap="round" stroke-linejoin="round"/>
<ellipse cx="661.6" cy="679.8" rx="3.8" ry="6.4" transform="rotate(26 661.6 679.8)" fill="#2a2a2a" stroke="#1f1f1f" stroke-width="1.8"/>
<circle cx="661" cy="681.4" r="0.8" fill="#ddd"/>
<path d="M661.4 633.2L661 638.8" fill="none" stroke="#eee" stroke-width="1.6" stroke-linecap="round" stroke-linejoin="round"/></g>
<g id="clips"><ellipse cx="672.3" cy="686.6" rx="6.9" ry="3.7" transform="rotate(-52 672.3 686.6)" fill="none" stroke="#1f1f1f" stroke-width="2.3"/>
<path d="M673.2 676.9L674.8 677.8" stroke="#1f1f1f" stroke-width="5.8" stroke-linecap="round"/>
<ellipse cx="720.6" cy="716.4" rx="7.6" ry="3.9" transform="rotate(-56 720.6 716.4)" fill="none" stroke="#1f1f1f" stroke-width="2.3"/>
<path d="M723.8 705.9L725.4 706.8" stroke="#1f1f1f" stroke-width="5.8" stroke-linecap="round"/>
<ellipse cx="480.7" cy="687.8" rx="6.6" ry="3.4" transform="rotate(-58 480.7 687.8)" fill="none" stroke="#1f1f1f" stroke-width="2.3"/>
<path d="M484.2 678.7L485.8 679.6" stroke="#1f1f1f" stroke-width="5.8" stroke-linecap="round"/></g>
<g id="joint55102"><g transform="translate(680.7 692.3) rotate(26.3)" stroke="#1f1f1f" fill="none" stroke-linecap="round" stroke-linejoin="round">
<path d="M0 -3.6 H31.8 V3.6 H0 Z" fill="#fff" stroke-width="2.6"/>
<ellipse cx="0" cy="0" rx="2" ry="3.8" fill="#fff" stroke-width="2"/>
<path d="M11 -5 L14.6 -5.9 L18.2 -5 V5 L14.6 5.9 L11 5 Z" fill="#2a2a2a" stroke-width="1.6"/>
<path d="M15.4 -2.2 V2.6" stroke="#ccc" stroke-width="1.3"/>
<path d="M7.6 -3.4 V3.4 M21.6 -3.4 V3.4" stroke-width="2"/>
<path d="M31.2 -3.4 V3.4" stroke-width="4.2"/>
<path d="M27.4 -1.6 V1.2" stroke="#ddd" stroke-width="1"/>
</g></g>
<g id="clamp90660"><path d="M410.4 778.8C410.6 778 410.8 776.1 411.7 774.2C412.6 772.4 414.2 769.5 415.6 767.7C417 766 418.5 764.4 420.1 763.5C421.8 762.6 423.6 762.1 425.3 762.2C427.1 762.3 429.2 764.1 430.5 764C431.8 763.8 432.1 762.3 433.1 761.2C434.2 760.2 435.5 758.6 437 757.9C438.6 757.1 440.4 756.6 442.2 756.8C444.1 757 446.2 758.1 448.1 759C449.9 759.8 452 761 453.3 762C454.6 763 455.6 764.4 456 764.8" fill="none" stroke="#1f1f1f" stroke-width="1.8" stroke-linecap="round" stroke-linejoin="round"/>
<path d="M456 764.8C456.1 765.8 456.9 768.9 456.7 771C456.4 773.1 455.7 775.8 454.7 777.5C453.7 779.2 452.3 780.3 450.7 781.4C449 782.5 446.4 783 444.8 784C443.3 785 442.7 785.8 441.6 787.2C440.5 788.6 439.6 790.8 438.3 792.4C437 794.1 435.8 795.8 433.8 797C431.7 798.1 427.6 799.1 426 799.3C424.4 799.6 424.4 798.6 424 798.4" fill="none" stroke="#1f1f1f" stroke-width="1.8" stroke-linecap="round" stroke-linejoin="round"/>
<path d="M424 798.4C422.7 797.7 413.8 793.5 412.3 792.6C410.9 791.6 411.3 790.5 411.6 790C411.8 789.5 413.4 788.2 414.3 788.2C415.1 788.2 417.5 789 418.8 789.8C420.1 790.6 424.7 794.5 425.5 795.2" fill="none" stroke="#1f1f1f" stroke-width="1.8" stroke-linecap="round" stroke-linejoin="round"/>
<path d="M410.4 778.8L422.1 783.5" fill="none" stroke="#1f1f1f" stroke-width="1.8" stroke-linecap="round" stroke-linejoin="round"/>
<path d="M422.1 783.5C422.4 782.3 423.1 778.4 424 776.2C425 774 426.3 772 427.9 770.5C429.6 769 431.5 767.8 433.8 767.2C436.1 766.6 439.6 767.3 441.6 766.8C443.5 766.4 444 765.3 445.5 764.6C447 764 449.1 763 450.7 762.9C452.2 762.8 454 763.8 454.7 764" fill="none" stroke="#1f1f1f" stroke-width="1.7" stroke-linecap="round" stroke-linejoin="round"/>
<path d="M425.5 784.8C426 783.4 427.2 778.5 428.6 776.3C430 774.2 432.2 772.6 433.8 771.8C435.4 771 437.1 771 438.3 771.6C439.5 772.3 440.6 773.9 441.1 775.5C441.5 777.2 441.5 779.3 441.1 781.4C440.6 783.4 439.5 786 438.3 787.9C437.1 789.7 435.4 791.3 433.8 792.4C432.2 793.5 430.5 794.7 428.6 794.5C426.6 794.3 423.7 792 422.1 791.3C420.5 790.5 419.4 790.1 418.8 789.8" fill="none" stroke="#1f1f1f" stroke-width="1.7" stroke-linecap="round" stroke-linejoin="round"/>
<path d="M422.1 783.5C421.8 782.3 422.8 779.4 423.5 777.5C424.3 775.6 425.7 772.6 426.6 772.3C427.6 772 429.1 774.2 429.2 775.5C429.3 776.8 427.9 778.5 427.3 780.1C426.7 781.6 426.3 784.2 425.5 784.8C424.6 785.3 422.4 784.7 422.1 783.5Z" fill="#1f1f1f" stroke="#1f1f1f" stroke-width="0.8" stroke-linecap="round" stroke-linejoin="round"/>
<path d="M441.6 781.4C441.4 782.3 441.4 784.9 440.6 786.6C439.9 788.3 437.6 790.9 437 791.8" fill="none" stroke="#1f1f1f" stroke-width="2.4" stroke-linecap="round" stroke-linejoin="round"/>
<ellipse cx="449.7" cy="771.8" rx="4.4" ry="6.4" transform="rotate(28 449.7 771.8)" fill="none" stroke="#1f1f1f" stroke-width="1.7"/>
<path d="M447.8 766.4C448.4 766.6 450.4 766.7 451.3 767.4C452.3 768.2 453.2 769.6 453.3 771C453.4 772.3 452.2 774.8 452 775.5" fill="none" stroke="#1f1f1f" stroke-width="1.4" stroke-linecap="round" stroke-linejoin="round"/>
<path d="M445.5 764.6C446.1 764.8 447.8 765.8 449.4 765.7C450.9 765.6 453.8 764.3 454.7 764" fill="none" stroke="#1f1f1f" stroke-width="1" stroke-linecap="round" stroke-linejoin="round"/></g>
<g fill="none" stroke="#3a3a3a" stroke-width="1.4">
<path d="M151 947.6V61H310V121.6"/>
<path d="M151 121.6H1263.2V947.6H151"/>
</g>
<g font-family="'Liberation Sans', Arial, sans-serif" font-weight="bold" opacity="0.999">
<text x="201.6" y="99.6" font-size="23.3" text-anchor="start" fill="#222">F12</text>
<text x="360.3" y="99.6" font-size="23.8" text-anchor="start" fill="#222">Oil Tank</text>
<text x="683.7" y="969.1" font-size="20.4" text-anchor="start" fill="#222">- 72 -</text>
<text x="835.2" y="182.5" font-size="19.2" text-anchor="start" fill="#222">55106</text>
<text x="829.5" y="240.2" font-size="19" text-anchor="start" fill="#222">55121</text>
<text x="839.1" y="284.8" font-size="18.9" text-anchor="start" fill="#222">55100</text>
<text x="657.2" y="290" font-size="20.2" text-anchor="start" fill="#222">35410</text>
<text x="966.5" y="412.8" font-size="20.2" text-anchor="start" fill="#222">90302</text>
<text x="852.9" y="593.6" font-size="20.4" text-anchor="start" fill="#222">90302</text>
<text x="680.2" y="562.2" font-size="18.9" text-anchor="start" fill="#222">17502</text>
<text x="598.2" y="615.4" font-size="18.7" text-anchor="start" fill="#222">15772</text>
<text x="607" y="701.6" font-size="18.9" text-anchor="start" fill="#222">55201</text>
<text x="693.8" y="680.4" font-size="19" text-anchor="start" fill="#222">95002-50000</text>
<text x="666.2" y="743.9" font-size="18.7" text-anchor="start" fill="#222">55102</text>
<text x="749.5" y="710.2" font-size="18.9" text-anchor="start" fill="#222">95002-02100</text>
<text x="419" y="660.1" font-size="19.1" text-anchor="start" fill="#222">95002-02100</text>
<text x="414.5" y="743.4" font-size="20.3" text-anchor="start" fill="#222">90660</text>
<text x="705.3" y="792.5" font-size="18.8" text-anchor="start" fill="#222">55123</text>
</g>
<g stroke="#222" stroke-width="1.2" fill="none">
<path d="M818.6 174.6L832.2 174.6"/>
<path d="M816.6 233.8L827.4 233.8"/>
<path d="M866.6 289.3L866.6 302.7"/>
<path d="M685.8 293.8L685.8 302.4"/>
<path d="M994 385.4L994 394.6"/>
<path d="M880.3 566.2L880.3 575.8"/>
<path d="M707.6 567.7L707.6 584.5"/>
<path d="M653.3 609.5L674.4 609.5"/>
<path d="M633.4 671.8L633.4 684.2"/>
<path d="M676.3 676.2L688.8 676.2"/>
<path d="M692.9 701.5L692.9 725.8"/>
<path d="M726.9 706.3L745 706.3"/>
<path d="M483.9 666.5L483.9 676"/>
<path d="M443.7 747.1L443.7 757.3"/>
<path d="M731.9 798L731.9 811.8"/>
</g></svg>
</body></html>
